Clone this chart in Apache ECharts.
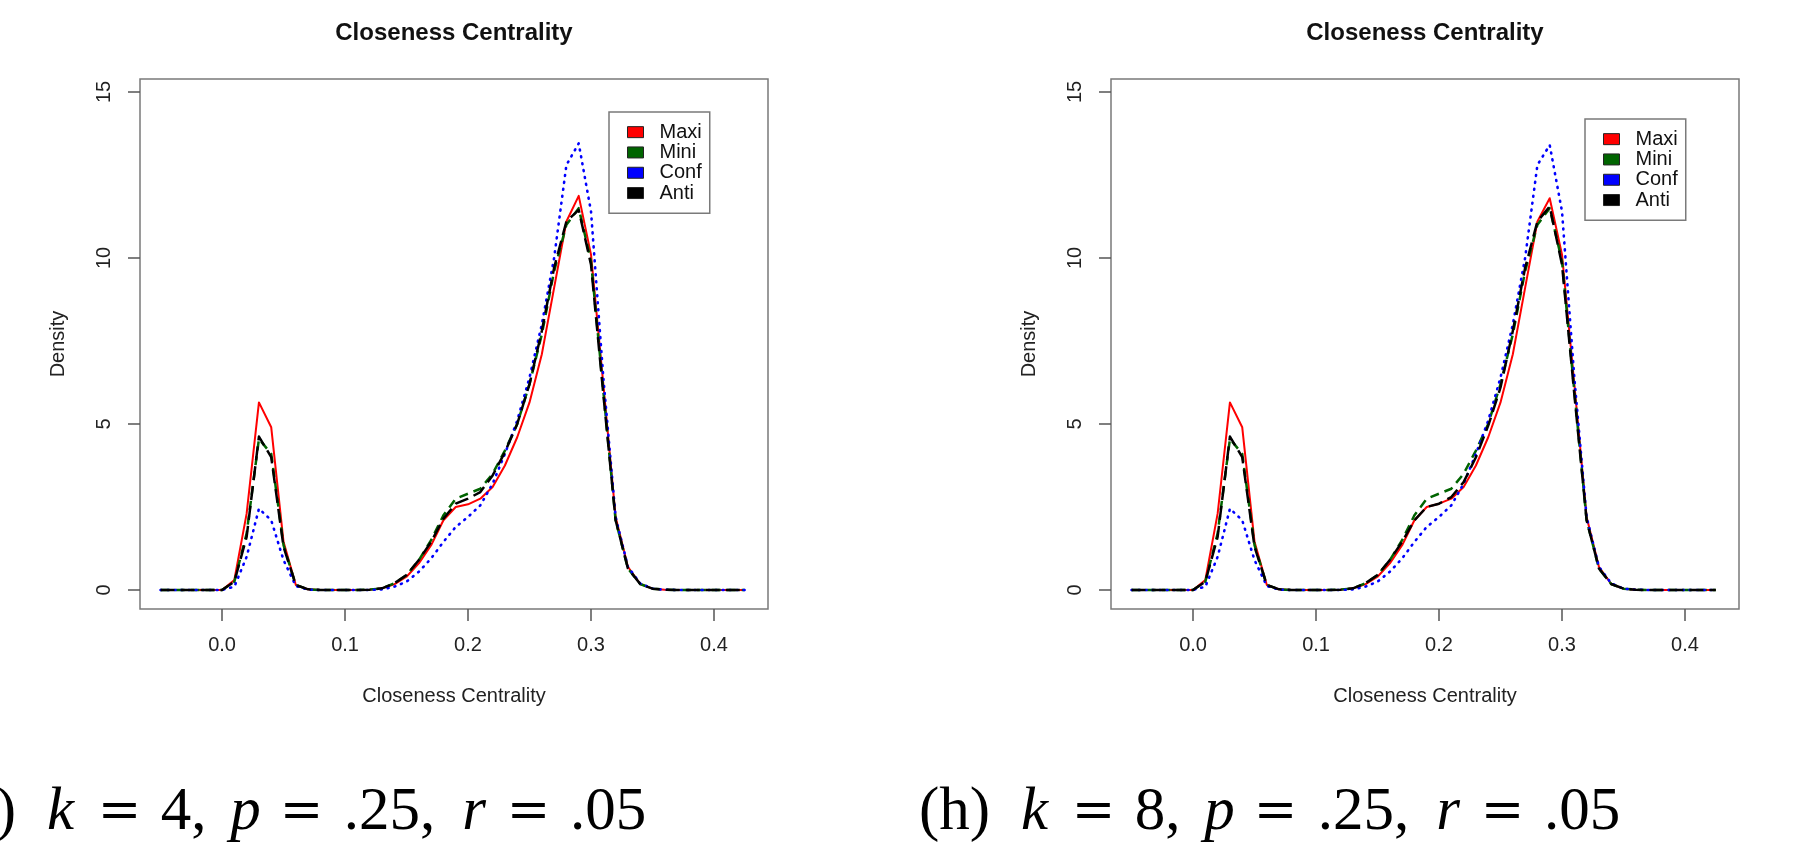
<!DOCTYPE html>
<html><head><meta charset="utf-8">
<script src="https://cdn.jsdelivr.net/npm/echarts@6/dist/echarts.min.js"></script>
<style>html,body{margin:0;padding:0;background:#fff}#c{width:1808px;height:868px}</style>
</head><body><div id="c"></div>
<script>
// x grid of the density estimates
const xs = [-0.05,-0.04,-0.03,-0.02,-0.01,
  0.00,0.01,0.02,0.03,0.04,0.05,0.06,0.07,0.08,0.09,
  0.10,0.11,0.12,0.13,0.14,0.15,0.16,0.17,0.18,0.19,
  0.20,0.21,0.22,0.23,0.24,0.25,0.26,0.27,0.28,0.29,
  0.30,0.31,0.32,0.33,0.34,0.35,0.36,0.37,0.38,0.39,
  0.40,0.41,0.42,0.425];

const seriesNames = ['Maxi','Mini','Conf','Anti'];
const xTicks = [0, 0.1, 0.2, 0.3, 0.4];
const yTicks = [0, 5, 10, 15];

// panel (g): k = 4
const maxiG = [0,0,0,0,0,
  0,0.3,2.3,5.65,4.9,1.45,0.15,0.02,0,0,
  0,0,0.01,0.05,0.17,0.4,0.8,1.35,2.1,2.5,
  2.58,2.75,3.1,3.75,4.6,5.65,7.1,9.1,11.1,11.87,
  10.1,6.2,2.2,0.7,0.18,0.04,0.01,0,0,0,
  0,0,0,0];
const miniG = [0,0,0,0,0,
  0,0.25,1.7,4.55,4.1,1.35,0.15,0.02,0,0,
  0,0,0.01,0.05,0.2,0.45,0.9,1.5,2.25,2.75,
  2.9,3.05,3.5,4.2,5.0,6.2,7.7,9.6,11.0,11.5,
  9.9,6.0,2.1,0.65,0.18,0.04,0.01,0,0,0,
  0,0,0,0];
const confG = [0,0,0,0,0,
  0,0.1,1.0,2.45,2.1,0.9,0.12,0.01,0,0,
  0,0,0,0.02,0.1,0.25,0.55,0.95,1.45,1.9,
  2.2,2.55,3.2,4.1,5.1,6.4,8.0,10.0,12.8,13.45,
  11.4,6.4,2.2,0.7,0.2,0.04,0.01,0,0,0,
  0,0,0,0];
const antiG = [0,0,0,0,0,
  0,0.25,1.6,4.62,4.0,1.3,0.15,0.02,0,0,
  0,0,0.01,0.05,0.2,0.45,0.9,1.45,2.15,2.6,
  2.75,2.95,3.45,4.15,5.0,6.2,7.8,9.7,11.1,11.45,
  9.8,5.9,2.1,0.65,0.18,0.04,0.01,0,0,0,
  0,0,0,0];

// panel (h): k = 8
const maxiH = [0,0,0,0,0,
  0,0.3,2.3,5.65,4.9,1.45,0.15,0.02,0,0,
  0,0,0.01,0.05,0.17,0.4,0.8,1.35,2.1,2.5,
  2.6,2.75,3.1,3.75,4.6,5.65,7.1,9.1,11.1,11.8,
  10.1,6.2,2.2,0.7,0.18,0.04,0.01,0,0,0,
  0,0,0,0];
const miniH = [0,0,0,0,0,
  0,0.25,1.7,4.55,4.1,1.35,0.15,0.02,0,0,
  0,0,0.01,0.05,0.2,0.45,0.9,1.5,2.25,2.75,
  2.9,3.05,3.5,4.2,5.0,6.2,7.7,9.6,11.0,11.5,
  9.9,6.0,2.1,0.65,0.18,0.04,0.01,0,0,0,
  0,0,0,0];
const confH = [0,0,0,0,0,
  0,0.1,1.0,2.45,2.1,0.9,0.12,0.01,0,0,
  0,0,0,0.02,0.1,0.25,0.55,0.95,1.45,1.9,
  2.2,2.55,3.2,4.1,5.1,6.4,8.0,10.0,12.8,13.4,
  11.4,6.4,2.2,0.7,0.2,0.04,0.01,0,0,0,
  0,0,0,0];
const antiH = [0,0,0,0,0,
  0,0.25,1.6,4.62,4.0,1.3,0.15,0.02,0,0,
  0,0,0.01,0.05,0.2,0.45,0.9,1.45,2.1,2.5,
  2.6,2.8,3.25,4.0,4.95,6.1,7.8,9.7,11.1,11.55,
  9.8,5.9,2.1,0.65,0.18,0.04,0.01,0,0,0,
  0,0,0,0];

const panels = [
  {maxi: maxiG, mini: miniG, conf: confG, anti: antiG},
  {maxi: maxiH, mini: miniH, conf: confH, anti: antiH}
];

const SANS = '"Liberation Sans", Arial, sans-serif';
const SERIF = '"Liberation Serif", "DejaVu Serif", serif';
const styles = {
  Maxi: {color:'#ff0000', width:2, type:'solid'},
  Mini: {color:'#006400', width:2.5, type:[9,6]},
  Conf: {color:'#0000ff', width:2.6, type:[1,6], cap:'round'},
  Anti: {color:'#000000', width:2.5, type:[14,6]}
};

const chart = echarts.init(document.getElementById('c'), null, {renderer:'canvas'});

const gridLefts = [140, 1111];
const legendPos = [[609,112],[1585,119]];

const grids = [], xAxes = [], yAxes = [], series = [], legends = [];
gridLefts.forEach((gl, gi) => {
  grids.push({left: gl, top: 79, width: 628, height: 530, show: true,
    borderColor: '#7a7a7a', borderWidth: 1.5, backgroundColor: 'transparent'});
  xAxes.push({type:'value', gridIndex: gi, min:-0.0667, max:0.4439, position:'bottom',
    axisLine:{show:false, onZero:false},
    axisTick:{show:true, length:12, inside:false, customValues:xTicks, lineStyle:{color:'#555', width:1.5}},
    axisLabel:{show:true, customValues:xTicks, formatter:(v)=>v.toFixed(1), fontSize:20, fontFamily:SANS, color:'#222', margin:26},
    splitLine:{show:false},
    name:'Closeness Centrality', nameLocation:'middle', nameGap:77,
    nameTextStyle:{fontSize:20, fontFamily:SANS, color:'#222'}
  });
  yAxes.push({type:'value', gridIndex: gi, min:-0.572, max:15.39, position:'left',
    axisLine:{show:false, onZero:false},
    axisTick:{show:true, length:12, customValues:yTicks, lineStyle:{color:'#555', width:1.5}},
    axisLabel:{show:true, customValues:yTicks, rotate:90, fontSize:20, fontFamily:SANS, color:'#222', margin:26},
    splitLine:{show:false},
    name:'Density', nameLocation:'middle', nameGap:72, nameRotate:90,
    nameTextStyle:{fontSize:20, fontFamily:SANS, color:'#222'}
  });
  const p = panels[gi];
  const arrs = {Maxi:p.maxi, Mini:p.mini, Conf:p.conf, Anti:p.anti};
  seriesNames.forEach(n => {
    const st = styles[n];
    series.push({name:n, type:'line', xAxisIndex:gi, yAxisIndex:gi,
      data: xs.map((x,i)=>[x, arrs[n][i]]),
      symbol:'none', showSymbol:false, smooth:false, silent:true,
      color: st.color,
      lineStyle:{color:st.color, width:st.width, type:st.type, cap:st.cap||'butt', join:'round'},
      animation:false, z: 2
    });
  });
  legends.push({left: legendPos[gi][0], top: legendPos[gi][1], orient:'vertical',
    icon:'rect', itemWidth:16, itemHeight:11, itemGap:0,
    padding:[10,8,10,18], borderColor:'#7a7a7a', borderWidth:1.5, backgroundColor:'#fff',
    itemStyle:{borderColor:'#222', borderWidth:1},
    textStyle:{fontSize:20, fontFamily:SANS, color:'#111', padding:[0,0,0,11], lineHeight:20.3},
    data: seriesNames, selectedMode:false, z: 5
  });
});

const FS = 61;
function caption(x, label, k) {
  const f = FS + 'px ' + SERIF, fi = 'italic ' + FS + 'px ' + SERIF;
  return {type:'text', x: x, y: 813, z: 10,
    style:{
      text: '{par|(' + label + ')}{sp0| }{kv|k}{eq|=}{num|' + k + ',}{sp| }{pv|p}{eq|=}{v25|.25,}{sp| }{rv|r}{eq|=}{v05|.05}',
      verticalAlign:'middle', align:'left', fill:'#000',
      rich:{
        par:{font:f, width:81, align:'left'},
        sp0:{font:f, width:21},
        sp:{font:f, width:23},
        kv:{font:fi, width:32, align:'left'},
        eq:{font:'52px "DejaVu Serif", serif', width:81, align:'center'},
        num:{font:f, width:47, align:'left'},
        pv:{font:fi, width:31, align:'left'},
        v25:{font:f, width:95, align:'left'},
        rv:{font:fi, width:28, align:'left'},
        v05:{font:f, width:78, align:'left'}
      }
    }};
}

const option = {
  animation:false,
  backgroundColor:'#fff',
  grid: grids, xAxis: xAxes, yAxis: yAxes, series: series, legend: legends,
  graphic: [
    {type:'text', x:454, y:33, style:{text:'Closeness Centrality', font:'bold 24px ' + SANS, fill:'#111', align:'center', verticalAlign:'middle'}},
    {type:'text', x:1425, y:33, style:{text:'Closeness Centrality', font:'bold 24px ' + SANS, fill:'#111', align:'center', verticalAlign:'middle'}},
    caption(-55, 'g', 4),
    caption(919, 'h', 8)
  ]
};
chart.setOption(option);
</script>
</body></html>
